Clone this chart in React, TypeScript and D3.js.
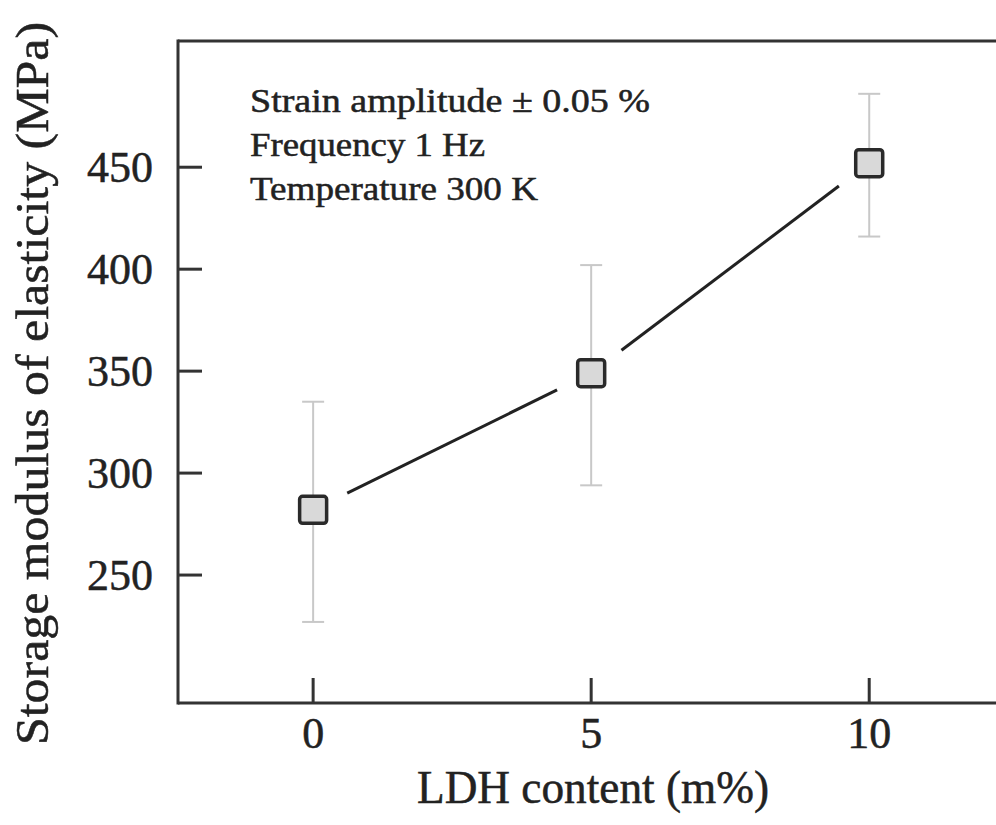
import React from "react";
import * as d3 from "d3";

const ldhContent = [0, 5, 10];
const storageModulus = [282, 349, 452];
const errLow = [227, 294, 416];
const errHigh = [335, 402, 486];
const yTicks = [250, 300, 350, 400, 450];
const xTicks = [0, 5, 10];
const notes = ["Strain amplitude  \u00b1 0.05 %", "Frequency 1 Hz", "Temperature 300 K"];
const noteWidths = [400, 235, 288];

const W = 996;
const H = 825;
const FONT = "Liberation Serif, Times New Roman, Times, serif";

export default function App() {
  const left = 178, top = 41, bottom = 703, right = W;
  const x = d3.scaleLinear().domain([-2.43, 12.28]).range([left, right]);
  const y = d3.scaleLinear().domain([187.25, 511.9]).range([bottom, top]);
  const axisColor = "#333";
  const txt = { fontFamily: FONT, stroke: "#222", strokeWidth: 0.5 } as React.CSSProperties;

  const pts = ldhContent.map((d, i) => ({ px: x(d), py: y(storageModulus[i]), i }));
  const gap = 38;
  const segs = [] as [number, number][][];
  for (let i = 0; i < pts.length - 1; i++) {
    const a = pts[i], b = pts[i + 1];
    const dx = b.px - a.px, dy = b.py - a.py;
    const len = Math.hypot(dx, dy);
    const ux = dx / len, uy = dy / len;
    segs.push([[a.px + ux * gap, a.py + uy * gap], [b.px - ux * gap, b.py - uy * gap]]);
  }
  const line = d3.line();

  const ms = 27;
  const capW = 22;

  return (
    <svg width={W} height={H} style={{ position: "absolute", left: 0, top: 0, background: "#fff", fontFamily: FONT }}>
      <rect x={0} y={0} width={W} height={H} fill="#fff" />
      <line x1={left} y1={top} x2={right} y2={top} stroke={axisColor} strokeWidth={3} />
      <line x1={left} y1={bottom} x2={right} y2={bottom} stroke={axisColor} strokeWidth={3} />
      <line x1={left} y1={top - 1.5} x2={left} y2={bottom + 1.5} stroke={axisColor} strokeWidth={3} />
      {yTicks.map((t) => (
        <g key={"y" + t}>
          <line x1={left} x2={left + 24} y1={y(t)} y2={y(t)} stroke={axisColor} strokeWidth={3} />
          <text x={153} y={y(t) + 15} textAnchor="end" fontSize={44} fill="#222" style={txt}>{t}</text>
        </g>
      ))}
      {xTicks.map((t) => (
        <g key={"x" + t}>
          <line x1={x(t)} x2={x(t)} y1={bottom} y2={bottom - 25} stroke={axisColor} strokeWidth={3} />
          <text x={x(t)} y={748} textAnchor="middle" fontSize={44} fill="#222" style={txt}>{t}</text>
        </g>
      ))}
      <text x={593} y={803} textAnchor="middle" fontSize={46} fill="#222" textLength={352} lengthAdjust="spacingAndGlyphs" style={txt}>
        LDH content  (m%)
      </text>
      <text transform={`translate(48,${(22 + 745) / 2}) rotate(-90)`} textAnchor="middle" fontSize={47} fill="#222" textLength={723} lengthAdjust="spacingAndGlyphs" style={txt}>
        Storage modulus of elasticity  (MPa)
      </text>
      {notes.map((n, i) => (
        <text key={n} x={250} y={112 + i * 44} fontSize={33} fill="#222" textLength={noteWidths[i]} lengthAdjust="spacingAndGlyphs" style={txt}>
          {n}
        </text>
      ))}
      {segs.map((s, i) => (
        <path key={"s" + i} d={line(s) || ""} stroke="#222" strokeWidth={3} fill="none" />
      ))}
      {ldhContent.map((d, i) => (
        <g key={"e" + i} stroke="#c8c8c8" strokeWidth={2}>
          <line x1={x(d)} x2={x(d)} y1={y(errLow[i])} y2={y(errHigh[i])} />
          <line x1={x(d) - capW / 2} x2={x(d) + capW / 2} y1={y(errLow[i])} y2={y(errLow[i])} />
          <line x1={x(d) - capW / 2} x2={x(d) + capW / 2} y1={y(errHigh[i])} y2={y(errHigh[i])} />
        </g>
      ))}
      {pts.map((p) => (
        <rect key={"m" + p.i} x={p.px - ms / 2} y={p.py - ms / 2} width={ms} height={ms} rx={3} fill="#d9d9d9" stroke="#2a2a2a" strokeWidth={3.5} />
      ))}
    </svg>
  );
}
